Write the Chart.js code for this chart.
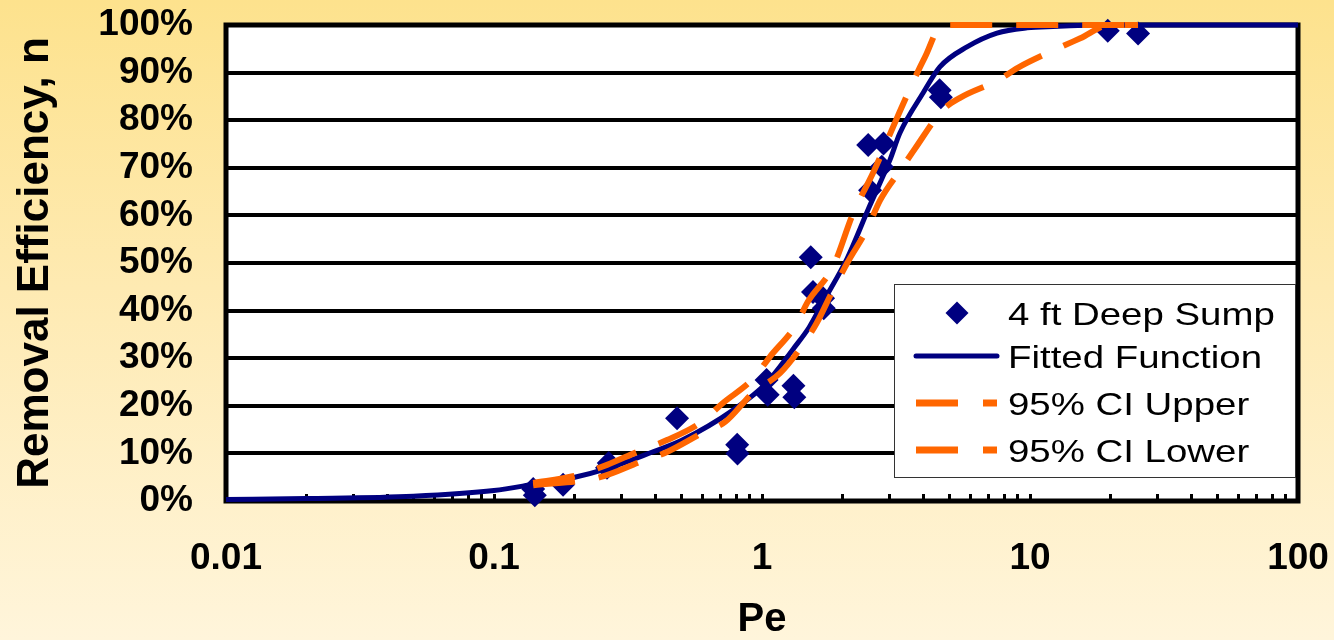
<!DOCTYPE html>
<html><head><meta charset="utf-8">
<script src="https://cdn.jsdelivr.net/npm/chart.js@4.4.1/dist/chart.umd.min.js"></script>
<style>
html,body{margin:0;padding:0;}
body{width:1334px;height:640px;overflow:hidden;background:linear-gradient(to bottom,#FDE28D 0%,#FEEAB2 45%,#FFF5DB 100%);}
#wrap{position:relative;width:1334px;height:640px;}
canvas{display:block;}
</style></head><body>
<div id="wrap"><canvas id="c" width="1334" height="640"></canvas></div>
<script>
// ---- data ----
const sumpPe  = [0.140, 0.142, 0.181, 0.264, 0.268, 0.482, 0.808, 0.810, 1.04, 1.05, 1.31, 1.32, 1.52, 1.55, 1.69, 1.70, 2.49, 2.53, 2.80, 2.84, 4.60, 4.65, 19.5, 25.3];
const sumpEff = [2.5, 1.2, 3.4, 7.0, 8.0, 17.4, 11.8, 10.0, 25.4, 22.3, 24.2, 21.8, 51.2, 43.9, 42.6, 40.5, 74.8, 65.3, 70.2, 75.1, 86.3, 84.8, 98.8, 98.2];

const fitPe  = [0.01, 0.02, 0.05, 0.1, 0.14, 0.2, 0.264, 0.39, 0.5, 0.78, 1.04, 1.31, 1.5, 1.69, 2.08, 2.5, 3.0, 3.27, 3.99, 4.61, 5.82, 7.53, 9.75, 12.2, 20, 100];
const fitEff = [0.3, 0.5, 1.0, 2.2, 3.5, 5.0, 6.8, 10.3, 12.7, 19.1, 24.8, 32.0, 36.5, 41.8, 51.0, 61.5, 71.6, 77.3, 85.7, 91.2, 95.4, 98.3, 99.4, 99.7, 100, 100];

const upperPe  = [0.14, 0.197, 0.264, 0.342, 0.442, 0.587, 0.715, 0.93, 1.07, 1.34, 1.48, 1.84, 2.19, 2.6, 3.19, 3.72, 4.06, 4.7, 25.3];
const upperEff = [3.8, 5.2, 7.6, 10.3, 12.8, 16.4, 20.6, 25.8, 30.3, 37.0, 41.8, 49.2, 60.5, 69.0, 80.5, 88.9, 93.3, 100, 100];

const lowerPe  = [0.14, 0.249, 0.351, 0.442, 0.60, 0.728, 0.925, 1.17, 1.42, 1.60, 1.84, 2.08, 2.46, 2.76, 3.33, 3.72, 4.7, 5.48, 7.6, 9.0, 12.6, 15.4, 19.9, 25.3];
const lowerEff = [3.3, 5.0, 8.2, 10.3, 14.3, 16.6, 22.7, 26.9, 32.8, 37.4, 44.3, 50.0, 57.0, 63.2, 70.0, 74.0, 82.0, 84.7, 88.4, 91.0, 95.0, 97.2, 100, 100];

const seriesNames = ['4 ft Deep Sump', 'Fitted Function', '95% CI Upper', '95% CI Lower'];
const xDecades    = [0.01, 0.1, 1, 10, 100];
const xTickLabels = ['0.01', '0.1', '1', '10', '100'];
const minorSteps  = [1, 2, 3, 4, 5, 6, 7, 8, 9];
const yTickStep   = 10;
const xTitle = 'Pe';
const yTitle = 'Removal Efficiency, n';

// ---- build ----
const NAVY = '#000080', ORANGE = '#FF6600';
const FONT = '"Liberation Sans", Arial, Helvetica, sans-serif';
const toXY = (xs, ys) => xs.map((x, i) => ({x: x, y: ys[i]}));
const xTickValues = [];
xDecades.forEach((d, di) => {
  if (di === xDecades.length - 1) { xTickValues.push(d); return; }
  minorSteps.forEach(m => xTickValues.push(m === 1 ? d : d * m));
});

const plotBg = {
  id: 'plotBg',
  beforeDraw(chart) {
    const {ctx, chartArea: a} = chart;
    ctx.save(); ctx.fillStyle = '#ffffff';
    ctx.fillRect(a.left, a.top, a.right - a.left, a.bottom - a.top);
    ctx.restore();
  }
};
const frame = {
  id: 'frame',
  beforeDatasetsDraw(chart) {
    const {ctx, chartArea: a} = chart;
    ctx.save(); ctx.strokeStyle = '#000'; ctx.lineWidth = 5;
    ctx.strokeRect(a.left, a.top, a.right - a.left, a.bottom - a.top);
    ctx.restore();
  }
};
const legendBox = {
  id: 'legendBox',
  afterDraw(chart) {
    const {ctx, chartArea: a} = chart;
    const w = 401, h = 193;
    const L = a.right - 404, T = a.top + 259;
    ctx.save();
    ctx.fillStyle = '#fff'; ctx.fillRect(L, T, w, h);
    ctx.strokeStyle = '#333'; ctx.lineWidth = 1; ctx.strokeRect(L + 0.5, T + 0.5, w, h);
    const rows = [29, 72, 119, 166];
    let cy = T + rows[0], cx = L + 63, r = 11.5;
    ctx.fillStyle = NAVY; ctx.beginPath();
    ctx.moveTo(cx - r, cy); ctx.lineTo(cx, cy - r); ctx.lineTo(cx + r, cy); ctx.lineTo(cx, cy + r); ctx.closePath(); ctx.fill();
    cy = T + rows[1];
    ctx.strokeStyle = NAVY; ctx.lineWidth = 5; ctx.lineCap = 'round';
    ctx.beginPath(); ctx.moveTo(L + 22, cy); ctx.lineTo(L + 103, cy); ctx.stroke();
    ctx.strokeStyle = ORANGE; ctx.lineWidth = 7; ctx.lineCap = 'butt';
    [rows[2], rows[3]].forEach(rr => {
      const y = T + rr;
      ctx.beginPath(); ctx.moveTo(L + 22, y); ctx.lineTo(L + 64, y); ctx.stroke();
      ctx.beginPath(); ctx.moveTo(L + 89, y); ctx.lineTo(L + 103, y); ctx.stroke();
    });
    ctx.fillStyle = '#000'; ctx.font = '32px ' + FONT; ctx.textBaseline = 'alphabetic';
    seriesNames.forEach((n, i) => {
      ctx.save(); ctx.translate(L + 114, T + rows[i] + 11.5); ctx.scale(1.2, 1);
      ctx.fillText(n, 0, 0); ctx.restore();
    });
    ctx.restore();
  }
};

new Chart(document.getElementById('c'), {
  type: 'scatter',
  data: {
    datasets: [
      { label: seriesNames[3], data: toXY(lowerPe, lowerEff), showLine: true, borderColor: ORANGE, borderWidth: 6,
        borderDash: [42, 24], pointRadius: 0, cubicInterpolationMode: 'monotone', fill: false, clip: false, order: 1 },
      { label: seriesNames[2], data: toXY(upperPe, upperEff), showLine: true, borderColor: ORANGE, borderWidth: 6,
        borderDash: [42, 24], pointRadius: 0, cubicInterpolationMode: 'monotone', fill: false, clip: false, order: 2 },
      { label: seriesNames[1], data: toXY(fitPe, fitEff), showLine: true, borderColor: NAVY, borderWidth: 5,
        pointRadius: 0, cubicInterpolationMode: 'monotone', fill: false, clip: false, order: 3 },
      { label: seriesNames[0], data: toXY(sumpPe, sumpEff), showLine: false, pointStyle: 'rectRot',
        pointRadius: 12, pointHoverRadius: 12, backgroundColor: NAVY, borderWidth: 0, clip: false, order: 4 }
    ]
  },
  options: {
    responsive: false, animation: false, devicePixelRatio: 1, events: [],
    layout: { padding: { left: 0, top: 25, right: 36, bottom: 0 } },
    plugins: { legend: { display: false }, tooltip: { enabled: false } },
    scales: {
      x: {
        type: 'logarithmic', min: 0.01, max: 100,
        afterFit(s) { s.height = 139; s.paddingLeft = 0; s.paddingRight = 0; },
        afterBuildTicks(s) { s.ticks = xTickValues.map(v => ({value: v})); },
        ticks: {
          autoSkip: false, maxRotation: 0, minRotation: 0, padding: 43, color: '#000',
          font: { family: FONT, size: 37, weight: 'bold' },
          callback: (v) => { const i = xDecades.indexOf(v); return i >= 0 ? xTickLabels[i] : ''; }
        },
        grid: { drawOnChartArea: false, drawTicks: true, tickLength: -7, tickWidth: 3, tickColor: '#000' },
        border: { display: false },
        title: { display: true, text: xTitle, color: '#000', font: { family: FONT, size: 40, weight: 'bold', lineHeight: 1 },
                 padding: { top: 0, bottom: 0 } }
      },
      y: {
        type: 'linear', min: 0, max: 100,
        afterFit(s) { s.width = 226; s.paddingTop = 0; s.paddingBottom = 0; },
        ticks: { stepSize: yTickStep, autoSkip: false, padding: 33, color: '#000',
                 font: { family: FONT, size: 37, weight: 'bold' }, callback: v => v + '%' },
        grid: { color: '#000', lineWidth: 4, drawTicks: false },
        border: { display: false },
        title: { display: true, text: yTitle, color: '#000', font: { family: FONT, size: 44, weight: 'bold', lineHeight: 1 },
                 padding: { top: 14, bottom: 0 } }
      }
    }
  },
  plugins: [plotBg, frame, legendBox]
});
</script>
</body></html>
